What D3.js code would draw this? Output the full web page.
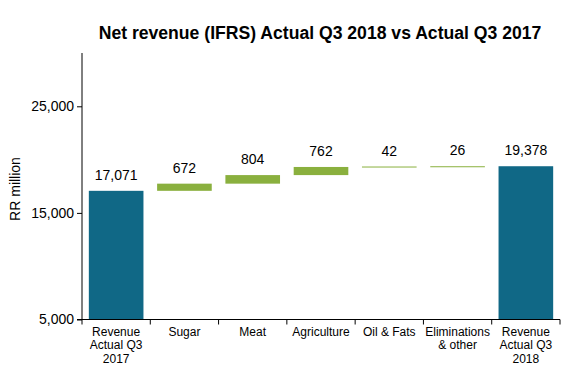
<!DOCTYPE html>
<html><head><meta charset="utf-8">
<script src="https://cdn.jsdelivr.net/npm/d3@7"></script>
<style>body{margin:0;background:#fff}svg{display:block}svg text{font-family:"Liberation Sans",Arial,sans-serif}</style>
</head><body><svg id="c" width="572" height="390"></svg>
<script>
const categories = [["Revenue","Actual Q3","2017"],["Sugar"],["Meat"],["Agriculture"],["Oil & Fats"],["Eliminations","& other"],["Revenue","Actual Q3","2018"]];
const values = [17071, 672, 804, 762, 42, 26, 19378];
const labels = ["17,071","672","804","762","42","26","19,378"];
const kinds = ["total","delta","delta","delta","delta","delta","total"];
const yTicks = [5000, 15000, 25000];
const title = "Net revenue (IFRS) Actual Q3 2018 vs Actual Q3 2017";
const yLabel = "RR million";

(function(){
const svg = d3.select("#c");
const mLeft = 82, mRight = 560, mTop = 53, mBottom = 319.5;
const x = d3.scaleBand().domain(d3.range(values.length)).range([mLeft, mRight]).paddingInner(0.2).paddingOuter(0.1);
const y = d3.scaleLinear().domain([5000, 30000]).range([mBottom, mTop]);
const step = x.step();

let cum = 0;
const bars = values.map((v, i) => {
  let y0, y1;
  if (kinds[i] === "total") { y0 = 5000; y1 = v; cum = v; }
  else { y0 = cum; y1 = cum + v; cum = y1; }
  return {i, y0, y1, kind: kinds[i]};
});

svg.append("text").attr("x", 320).attr("y", 39).attr("text-anchor", "middle")
  .attr("font-size", 17.6).attr("font-weight", "bold").attr("fill", "#000").text(title);

svg.append("text").attr("transform", `translate(20,${189})rotate(-90)`)
  .attr("text-anchor", "middle").attr("font-size", 14).text(yLabel);

svg.selectAll("rect.bar").data(bars).join("rect").attr("class", "bar")
  .attr("x", d => x(d.i)).attr("width", x.bandwidth())
  .attr("y", d => y(d.y1))
  .attr("height", d => Math.max(1, y(d.y0) - y(d.y1)))
  .attr("fill", d => d.kind === "total" ? "#106886" : "#8AB03E");

svg.selectAll("text.val").data(bars).join("text").attr("class", "val")
  .attr("x", d => x(d.i) + x.bandwidth() / 2).attr("y", d => y(d.y1) - 11)
  .attr("text-anchor", "middle").attr("font-size", 14).attr("fill", "#000")
  .text((d, i) => labels[i]);

const yAxis = d3.axisLeft(y).tickValues(yTicks).tickSize(5).tickFormat(d3.format(","));
const ga = svg.append("g").attr("transform", `translate(${mLeft},0)`).call(yAxis);
ga.attr("font-family", null);
ga.select(".domain").attr("d", `M0,${mTop}V${mBottom}`).attr("stroke", "#000");
ga.selectAll(".tick line").attr("stroke", "#000");
ga.selectAll(".tick text").attr("font-size", 14).attr("fill", "#000").attr("x", -8);

svg.append("line").attr("x1", mLeft - 5).attr("x2", mRight).attr("y1", mBottom).attr("y2", mBottom).attr("stroke", "#000");
svg.selectAll("line.sep").data(d3.range(values.length + 1)).join("line").attr("class", "sep")
  .attr("x1", i => mLeft + i * step).attr("x2", i => mLeft + i * step)
  .attr("y1", mBottom).attr("y2", mBottom + 5).attr("stroke", "#000");

const cl = svg.selectAll("text.cat").data(categories).join("text").attr("class", "cat")
  .attr("text-anchor", "middle").attr("font-size", 12).attr("fill", "#000");
cl.each(function(lines, i) {
  const t = d3.select(this);
  lines.forEach((s, j) => t.append("tspan").attr("x", x(i) + x.bandwidth() / 2).attr("y", mBottom + 16 + j * 13.5).text(s));
});
})();
</script></body></html>
